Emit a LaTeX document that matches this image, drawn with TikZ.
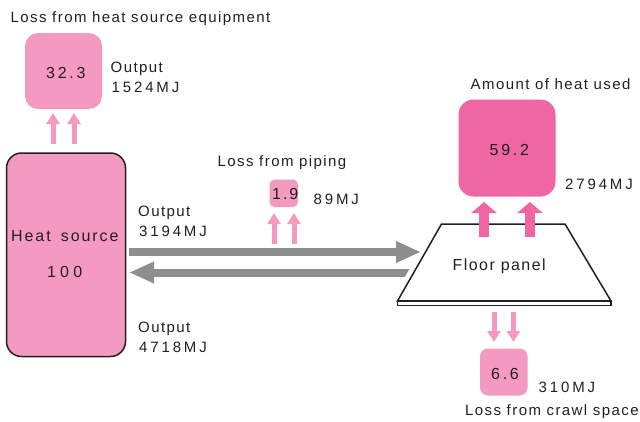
\documentclass[tikz,border=0pt]{standalone}
\usepackage{fontspec}
\setmainfont{Liberation Sans}[LetterSpace=9.5]
\newfontfamily\mjf{Liberation Sans}[LetterSpace=19]
\newfontfamily\boxf{Liberation Sans}[LetterSpace=17]
\newfontfamily\hunf{Liberation Sans}[LetterSpace=26]
\newfontfamily\hsf{Liberation Sans}[LetterSpace=12,WordSpace=1.6]
\newfontfamily\fpf{Liberation Sans}[LetterSpace=9]
\usetikzlibrary{arrows.meta}
\definecolor{lpink}{HTML}{F49AC1}
\definecolor{dpink}{HTML}{EE67A3}
\definecolor{pipegray}{HTML}{8E8E8E}
\definecolor{txt}{HTML}{231F20}
\tikzset{
  lbl/.style={inner sep=0pt, anchor=base west, text=txt, font=\fontsize{15}{17}\selectfont},
  mj/.style={lbl, font=\fontsize{15}{17}\selectfont\mjf},
  bnum/.style={lbl, font=\fontsize{16}{18}\selectfont\boxf},
  lbox/.style={fill=lpink, draw=none},
  dbox/.style={fill=dpink, draw=none},
  smallup/.style={draw=lpink, line width=5pt, -{Triangle[width=13pt,length=11pt]}},
  bigup/.style={draw=dpink, line width=10pt, -{Triangle[width=25pt,length=11pt]}},
  pipe/.style={draw=pipegray, line width=8pt, -{Triangle[width=20pt,length=25pt]}},
}
\begin{document}
\begin{tikzpicture}[x=1pt,y=-1pt]
\useasboundingbox (0,0) rectangle (640,421);
% heat source equipment loss
\node[lbl] (t1) at (10.5,22.5) {Loss from heat source equipment};
\path[lbox, rounded corners=13pt] (25,33) rectangle (102,109);
\node[bnum] (b1) at (46,78) {32.3};
\node[lbl] (o1) at (110.5,72.5) {Output};
\node[mj] (m1) at (111.5,92.5) {1524MJ};
\coordinate (a1s) at (53,144); \coordinate (a1e) at (53,113);
\coordinate (a2s) at (74,144); \coordinate (a2e) at (74,113);
\draw[smallup] (a1s) -- (a1e);
\draw[smallup] (a2s) -- (a2e);
% heat source
\draw[fill=lpink, draw=txt, line width=1.5pt, rounded corners=15pt] (6.5,153) rectangle (125.5,356.5);
\node[lbl, font=\fontsize{16}{18}\selectfont\hsf] (hs) at (11,241.5) {Heat source};
\node[lbl, font=\fontsize{16}{18}\selectfont\hunf] (hv) at (47,277.5) {100};
\node[lbl] (o2) at (138,216.5) {Output};
\node[mj] (m2) at (139,236.5) {3194MJ};
\node[lbl] (o3) at (138,332) {Output};
\node[mj] (m3) at (139,352) {4718MJ};
% pipes
\coordinate (p1s) at (129,252); \coordinate (p1e) at (421,252);
\coordinate (p2s) at (420,272.5); \coordinate (p2e) at (129,272.5);
\draw[pipe] (p1s) -- (p1e);
\begin{scope}
  \clip (0,0) -- (563,0) -- (322.5,421) -- (0,421) -- cycle;
  \draw[pipe] (p2s) -- (p2e);
\end{scope}
% piping loss
\node[lbl] (t2) at (217.5,166.5) {Loss from piping};
\path[lbox, rounded corners=5pt] (269.5,179.5) rectangle (298,207);
\node[bnum, font=\fontsize{16}{18}\selectfont\hsf] (b2) at (272,199) {1.9};
\node[mj] (m4) at (313.5,204.3) {89MJ};
\coordinate (a3s) at (274,244); \coordinate (a3e) at (274,213);
\coordinate (a4s) at (294,244); \coordinate (a4e) at (294,213);
\draw[smallup] (a3s) -- (a3e);
\draw[smallup] (a4s) -- (a4e);
% floor panel
\draw[fill=white, draw=txt, line width=1.5pt, line join=miter] (441.5,224) -- (565,224) -- (611,301) -- (397.5,301) -- cycle;
\draw[fill=white, draw=txt, line width=1.3pt] (397.5,301) rectangle (611,305.5);
\node[lbl, font=\fontsize{16}{18}\selectfont\fpf] (fp) at (452.5,270) {Floor panel};
% heat used
\node[lbl] (t3) at (470.5,89) {Amount of heat used};
\path[dbox, rounded corners=15pt] (458.5,99.5) rectangle (555.5,196.5);
\node[bnum] (b3) at (489.5,155) {59.2};
\node[mj] (m5) at (565,189.3) {2794MJ};
\coordinate (a5s) at (484,237); \coordinate (a5e) at (484,202);
\coordinate (a6s) at (530,237); \coordinate (a6e) at (530,202);
\draw[bigup] (a5s) -- (a5e);
\draw[bigup] (a6s) -- (a6e);
% crawl space
\coordinate (a7s) at (494,312); \coordinate (a7e) at (494,342);
\coordinate (a8s) at (513.5,312); \coordinate (a8e) at (513.5,342);
\draw[smallup] (a7s) -- (a7e);
\draw[smallup] (a8s) -- (a8e);
\path[lbox, rounded corners=8pt] (480,348.5) rectangle (527.5,395.5);
\node[bnum] (b4) at (491,379) {6.6};
\node[mj] (m6) at (538.5,392.7) {310MJ};
\node[lbl] (t4) at (465,415) {Loss from crawl space};
\end{tikzpicture}
\end{document}
